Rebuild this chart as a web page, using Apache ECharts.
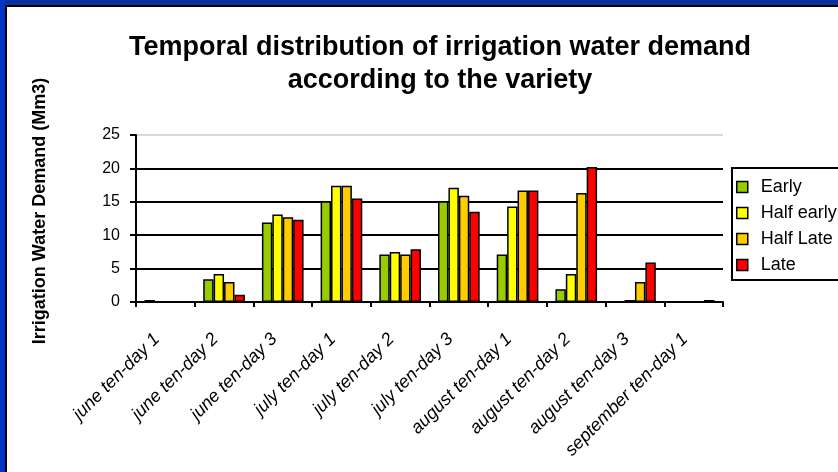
<!DOCTYPE html>
<html>
<head>
<meta charset="utf-8">
<script src="https://cdn.jsdelivr.net/npm/echarts@6/dist/echarts.min.js"></script>
<style>
  html, body { margin: 0; padding: 0; background: #fff; }
  #chart { width: 838px; height: 472px; }
</style>
</head>
<body>
<div id="chart"></div>
<script>
const categories = [
  'june ten-day 1', 'june ten-day 2', 'june ten-day 3',
  'july ten-day 1', 'july ten-day 2', 'july ten-day 3',
  'august ten-day 1', 'august ten-day 2', 'august ten-day 3',
  'september ten-day 1'
]
const early     = [0.3, 3.4, 11.9, 15.1, 7.1, 15.1, 7.1, 1.9, 0, 0]
const halfEarly = [0, 4.2, 13.1, 17.4, 7.5, 17.1, 14.3, 4.2, 0.3, 0]
const halfLate  = [0, 3.0, 12.7, 17.4, 7.1, 15.9, 16.7, 16.3, 3.0, 0]
const late      = [0, 1.1, 12.3, 15.5, 7.9, 13.5, 16.7, 20.2, 5.9, 0.3]

const FONT = 'Liberation Sans, Arial, sans-serif'

const chart = echarts.init(document.getElementById('chart'), null, { renderer: 'canvas' })

const barSeries = (name, data, color) => ({
  name,
  type: 'bar',
  data,
  barGap: '0%',
  barCategoryGap: '29%',
  itemStyle: { color, borderColor: '#000', borderWidth: 1.5 }
})

const option = {
  backgroundColor: '#fff',
  animation: false,
  title: {
    text: 'Temporal distribution of irrigation water demand\naccording to the variety',
    left: 435,
    textAlign: 'center',
    top: 26,
    textStyle: { fontFamily: FONT, fontSize: 27, fontWeight: 'bold', color: '#000', lineHeight: 33 }
  },
  legend: {
    orient: 'vertical',
    left: 732,
    top: 168,
    padding: [10, 40, 6, 4],
    itemGap: 8,
    itemWidth: 11,
    itemHeight: 11,
    borderColor: '#000',
    borderWidth: 2,
    icon: 'rect',
    itemStyle: { borderColor: '#000', borderWidth: 1.5 },
    textStyle: { fontFamily: FONT, fontSize: 18, color: '#000', lineHeight: 18, padding: [0, 0, 0, 8] },
    data: ['Early', 'Half early', 'Half Late', 'Late']
  },
  grid: { left: 136, right: 115, top: 135, bottom: 170, containLabel: false },
  xAxis: {
    type: 'category',
    data: categories,
    axisLine: { lineStyle: { color: '#000', width: 2 } },
    axisTick: { show: true, alignWithLabel: false, length: 5, lineStyle: { color: '#000', width: 2 } },
    axisLabel: {
      interval: 0,
      rotate: 45,
      margin: 26,
      padding: [0, 12, 0, 0],
      fontFamily: FONT,
      fontSize: 18,
      fontStyle: 'italic',
      color: '#000'
    }
  },
  yAxis: {
    type: 'value',
    min: 0,
    max: 25,
    interval: 5,
    axisLine: { show: true, lineStyle: { color: '#000', width: 2 } },
    axisTick: { show: true, length: 6, lineStyle: { color: '#000', width: 2 } },
    axisLabel: { margin: 16, fontFamily: FONT, fontSize: 16, color: '#000' },
    splitLine: {
      show: true,
      lineStyle: { color: ['#000', '#000', '#000', '#000', '#000', '#d9d9d9'], width: 2 }
    }
  },
  graphic: [
    { type: 'rect', shape: { x: 0, y: 0, width: 838, height: 5 }, style: { fill: '#0b2f9f' }, silent: true },
    { type: 'rect', shape: { x: 0, y: 0, width: 5, height: 472 }, style: { fill: '#0535c8' }, silent: true },
    { type: 'rect', shape: { x: 5, y: 5, width: 833, height: 2 }, style: { fill: '#000' }, silent: true },
    { type: 'rect', shape: { x: 5, y: 5, width: 2, height: 467 }, style: { fill: '#000' }, silent: true },
    {
      type: 'text',
      x: 40,
      y: 211,
      rotation: Math.PI / 2,
      silent: true,
      style: {
        text: 'Irrigation Water Demand (Mm3)',
        font: 'bold 18px ' + FONT,
        fill: '#000',
        textAlign: 'center',
        textVerticalAlign: 'middle'
      }
    }
  ],
  series: [
    barSeries('Early', early, '#99cc00'),
    barSeries('Half early', halfEarly, '#ffff00'),
    barSeries('Half Late', halfLate, '#ffcc00'),
    barSeries('Late', late, '#ff0000')
  ]
}

chart.setOption(option)
window.addEventListener('resize', () => chart.resize())
</script>
</body>
</html>
